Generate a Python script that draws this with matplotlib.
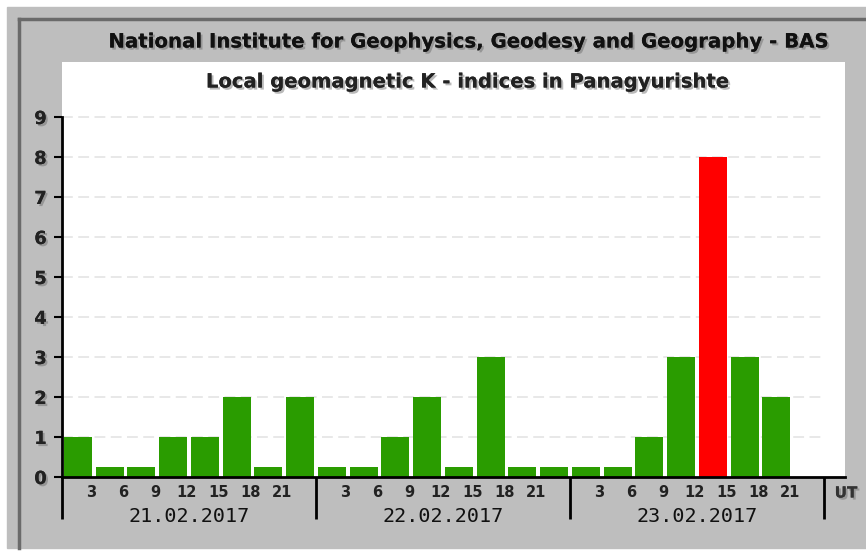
import matplotlib
matplotlib.use("Agg")
import matplotlib.pyplot as plt
import matplotlib.patheffects as pe
from matplotlib.patches import Rectangle
from matplotlib.lines import Line2D

# ---------------------------------------------------------------------------
# data
# ---------------------------------------------------------------------------
dates = ["21.02.2017", "22.02.2017", "23.02.2017"]
hour_labels = ["3", "6", "9", "12", "15", "18", "21"]
k_day1 = [1, 0, 0, 1, 1, 2, 0, 2]
k_day2 = [0, 0, 1, 2, 0, 3, 0, 0]
k_day3 = [0, 0, 1, 3, 8, 3, 2, None]   # last interval not yet available
storm_level = 5                          # K >= 5 drawn in red

W, H = 866, 552
fig = plt.figure(figsize=(W / 100, H / 100), dpi=100, facecolor="white")

def fx(px):
    return px / W

def fy(py):
    return 1 - py / H

# gray panel + dark frame
fig.patches.append(Rectangle((fx(7), fy(548)), fx(866 - 7), (548 - 7) / H,
                             transform=fig.transFigure, color="#bebebe", zorder=-10))
fig.lines.append(Line2D([fx(19), fx(19)], [fy(548), fy(19)], transform=fig.transFigure,
                        color="#6a6a6a", lw=2.5, zorder=-9))
fig.lines.append(Line2D([fx(19), fx(866)], [fy(19), fy(19)], transform=fig.transFigure,
                        color="#6a6a6a", lw=2.5, zorder=-9))

# white chart area
ax_left, ax_right, ax_top, ax_bottom = 62, 845, 62, 477
ax = fig.add_axes([fx(ax_left), fy(ax_bottom), fx(ax_right - ax_left), (ax_bottom - ax_top) / H])
ax.set_facecolor("white")
ax.set_zorder(1)

slot = 254 / 8.0  # pixels per 3-hour interval
ax.set_xlim(0, (ax_right - ax_left) / slot)
ax.set_ylim(0, (ax_bottom - ax_top) / 40.0)

shadow = [pe.withSimplePatchShadow(offset=(1.5, -1.5), shadow_rgbFace="#666666", alpha=0.45), pe.Normal()]

# grid
for y in range(1, 10):
    ax.plot([0, 24], [y, y], color="#e6e6e6", lw=1.3, dashes=(6, 3), zorder=1)

# bars
k_all = k_day1 + k_day2 + k_day3
for i, k in enumerate(k_all):
    if k is None:
        continue
    h = k if k > 0 else 0.25
    col = "#ff0000" if k >= storm_level else "#2a9c00"
    ax.bar(i + 0.5, h, width=0.88, color=col, zorder=2)

# spines
for s in ["top", "right"]:
    ax.spines[s].set_visible(False)
ax.spines["left"].set_bounds(0, 9)
ax.spines["left"].set_linewidth(2)
ax.spines["bottom"].set_linewidth(2)
ax.spines["bottom"].set_zorder(3)

# y ticks
ax.set_yticks(range(0, 10))
ax.tick_params(axis="y", direction="out", length=6, width=1.5, pad=5, labelsize=13)
for lab in ax.get_yticklabels():
    lab.set_fontweight("bold")
    lab.set_color("#222222")
    lab.set_path_effects(shadow)

# x: day separators as long major ticks, hours as minor labels
ax.set_xticks([0, 8, 16, 24])
ax.set_xticklabels([])
ax.tick_params(axis="x", which="major", direction="out", length=30, width=2)
ax.set_xticks([d * 8 + j + 0.93 for d in range(3) for j in range(7)], minor=True)
ax.set_xticklabels(hour_labels * 3, minor=True)
ax.tick_params(axis="x", which="minor", length=0, pad=6, labelsize=10.5)
for lab in ax.get_xticklabels(minor=True):
    lab.set_fontweight("bold")
    lab.set_color("#222222")

for d, txt in enumerate(dates):
    ax.text(d * 8 + 4, -1.0, txt, ha="center", va="center", fontsize=14.5,
            family="DejaVu Sans Mono", color="#111111", clip_on=False)

fig.text(fx(846), fy(493), "UT", ha="center", va="center", fontsize=11,
         fontweight="bold", color="#333333", path_effects=shadow)

# titles
fig.text(fx(469), fy(42), "National Institute for Geophysics, Geodesy and Geography - BAS",
         ha="center", va="center", fontsize=14.2, fontweight="bold", color="#111111",
         path_effects=shadow)
fig.text(fx(468), fy(82), "Local geomagnetic K - indices in Panagyurishte",
         ha="center", va="center", fontsize=14.1, fontweight="bold", color="#222222",
         path_effects=shadow, zorder=5)

fig.savefig("out.png", dpi=100, facecolor="white")
